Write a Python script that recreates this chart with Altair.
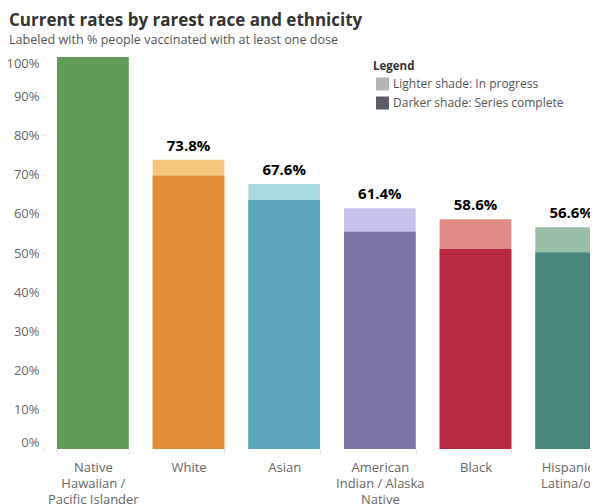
import altair as alt
import pandas as pd

categories = [
    "Native\nHawaiian /\nPacific Islander",
    "White",
    "Asian",
    "American\nIndian / Alaska\nNative",
    "Black",
    "Hispanic /\nLatina/o/x",
]
at_least_one = [108.0, 73.8, 67.6, 61.4, 58.6, 56.6]
series_complete = [102.0, 69.7, 63.5, 55.4, 51.0, 50.1]
dark_colors = ["#639c59", "#e18c37", "#5aa6bc", "#7d74a5", "#b82a40", "#46867a"]
light_colors = ["#a9d39f", "#f4c67c", "#a8d8e3", "#c4c2ea", "#df8c86", "#98bea6"]
y_ticks = [0, 10, 20, 30, 40, 50, 60, 70, 80, 90, 100]
legend_labels = ["Lighter shade: In progress", "Darker shade: Series complete"]
legend_colors = ["#b4b6b6", "#5b5e65"]

df = pd.DataFrame({
    "category": categories,
    "total": at_least_one,
    "complete": series_complete,
    "dark": dark_colors,
    "light": light_colors,
})
legend_df = pd.DataFrame({"shade": legend_labels})

FONT = "Open Sans"

x_enc = alt.X(
    "category:N",
    sort=categories,
    scale=alt.Scale(paddingInner=0.25, paddingOuter=0.125),
    axis=alt.Axis(
        title=None,
        labelAngle=0,
        labelFontSize=13,
        labelColor="#666666",
        labelFont=FONT,
        labelExpr="split(datum.label, '\\n')",
        labelLineHeight=16,
        labelBaseline="top",
        labelPadding=7,
        labelOverlap=False,
        labelLimit=0,
        domain=False,
        tickBand="extent",
        tickColor="#e3e3e3",
        tickSize=5,
    ),
)
y_scale = alt.Scale(domain=[0, 100], nice=False)
y_axis = alt.Axis(
    title=None,
    values=y_ticks,
    labelExpr="datum.value + '%'",
    grid=False,
    domain=False,
    tickSize=3,
    tickColor="#e3e3e3",
    labelFlush=True,
    labelOverlap=False,
    labelFontSize=13,
    labelColor="#666666",
    labelFont=FONT,
    labelPadding=3,
)

base = alt.Chart(df)

light_bars = base.mark_bar(clip=True).encode(
    x=x_enc,
    y=alt.Y("total:Q", scale=y_scale, axis=y_axis),
    color=alt.Color("light:N", scale=None),
)
dark_bars = base.mark_bar(clip=True).encode(
    x=x_enc,
    y=alt.Y("complete:Q", scale=y_scale, axis=y_axis),
    color=alt.Color("dark:N", scale=None),
)
labels = base.transform_calculate(
    label="format(datum.total, '.1f') + '%'"
).mark_text(
    clip=True, dy=-6, baseline="bottom", fontWeight="bold", fontSize=15,
    color="#000000", font=FONT,
).encode(
    x=x_enc,
    y=alt.Y("total:Q", scale=y_scale, axis=y_axis),
    text="label:N",
)
legend_layer = alt.Chart(legend_df).transform_filter("false").mark_square().encode(
    color=alt.Color(
        "shade:N",
        scale=alt.Scale(domain=legend_labels, range=legend_colors),
        legend=alt.Legend(
            title="Legend",
            orient="none",
            legendX=328,
            legendY=4,
            titleFontSize=11.5,
            titleFontWeight="bold",
            titleColor="#333333",
            titleFont=FONT,
            titlePadding=5,
            labelFontSize=12,
            labelColor="#555555",
            labelFont=FONT,
            labelLimit=0,
            symbolType="square",
            symbolSize=169,
            symbolStrokeWidth=0,
            symbolOpacity=1,
            symbolOffset=3,
            rowPadding=6,
            labelOffset=4,
        ),
    )
)

chart = alt.layer(light_bars, dark_bars, labels, legend_layer).resolve_scale(
    color="independent"
).properties(
    width=574,
    height=392,
    autosize=alt.AutoSizeParams(type="none"),
    padding={"left": 37, "top": 49, "right": -29, "bottom": 55},
    title=alt.Title(
        text="Current rates by rarest race and ethnicity",
        subtitle="Labeled with % people vaccinated with at least one dose",
        anchor="start",
        frame="bounds",
        dx=3,
        font=FONT,
        fontSize=17,
        fontWeight="bold",
        color="#333333",
        subtitleFont=FONT,
        subtitleFontSize=12.6,
        subtitleColor="#555555",
        subtitlePadding=4,
        offset=9,
    ),
).configure_view(stroke=None)

chart.save("out.html", embed_options={"renderer": "svg", "actions": False})
